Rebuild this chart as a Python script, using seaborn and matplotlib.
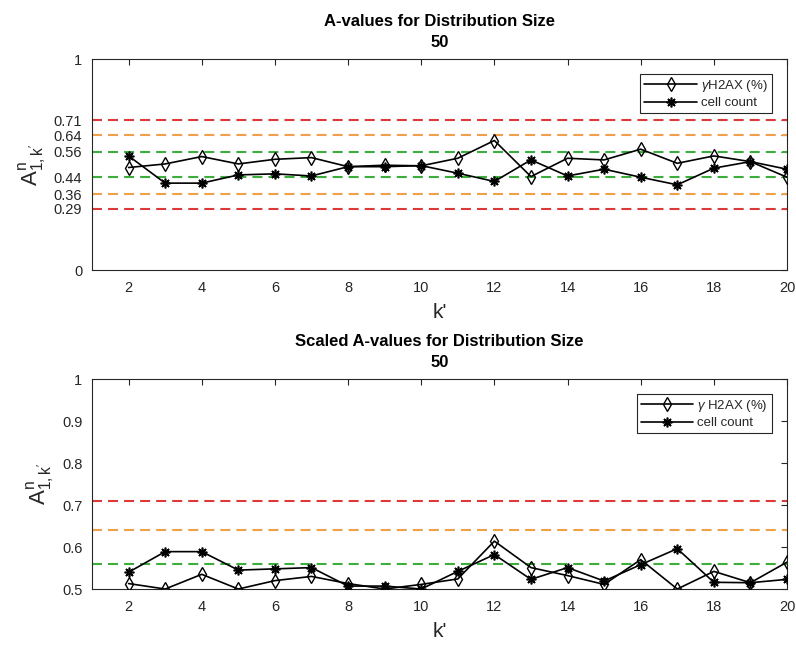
import numpy as np
import pandas as pd
import matplotlib
matplotlib.use("Agg")
import matplotlib.pyplot as plt
import seaborn as sns
from matplotlib.lines import Line2D

# k' positions
k_prime = [2, 3, 4, 5, 6, 7, 8, 9, 10, 11, 12, 13, 14, 15, 16, 17, 18, 19, 20]

# A-values
a_h2ax = [0.486, 0.503, 0.538, 0.503, 0.525, 0.533, 0.490, 0.497, 0.494, 0.530,
          0.614, 0.443, 0.530, 0.522, 0.573, 0.506, 0.541, 0.514, 0.440]
a_cells = [0.541, 0.412, 0.412, 0.451, 0.456, 0.446, 0.490, 0.490, 0.495, 0.459,
           0.420, 0.522, 0.446, 0.478, 0.440, 0.404, 0.483, 0.514, 0.478]

# Scaled A-values
s_h2ax = [0.513, 0.500, 0.535, 0.500, 0.520, 0.530, 0.513, 0.500, 0.511, 0.524,
          0.614, 0.551, 0.532, 0.511, 0.570, 0.500, 0.542, 0.515, 0.564]
s_cells = [0.540, 0.589, 0.589, 0.545, 0.548, 0.551, 0.507, 0.507, 0.500, 0.542,
           0.582, 0.523, 0.551, 0.519, 0.558, 0.596, 0.516, 0.515, 0.523]

# Effect-size thresholds (small / medium / large)
thr_levels = [0.56, 0.64, 0.71]
thr_colors = ["#3dae3d", "#f0a04b", "#dc3a3a"]

top_yticks = [0, 0.29, 0.36, 0.44, 0.56, 0.64, 0.71, 1]
top_yticklabels = ["0", "0.29", "0.36", "0.44", "0.56", "0.64", "0.71", "1"]
bot_yticks = [0.5, 0.6, 0.7, 0.8, 0.9, 1]
bot_yticklabels = ["0.5", "0.6", "0.7", "0.8", "0.9", "1"]
xticks = [2, 4, 6, 8, 10, 12, 14, 16, 18, 20]

sns.set_style("white")
plt.rcParams["font.family"] = ["Liberation Sans", "DejaVu Sans"]
plt.rcParams["mathtext.fontset"] = "custom"
plt.rcParams["mathtext.rm"] = "Liberation Sans"
plt.rcParams["mathtext.it"] = "Liberation Sans:italic"
plt.rcParams["mathtext.bf"] = "Liberation Sans:bold"

TXT = "#262626"

fig = plt.figure(figsize=(7.96, 6.46), dpi=100)
ax1 = fig.add_axes([0.1156, 0.582, 0.8731, 0.3265])
ax2 = fig.add_axes([0.1156, 0.0882, 0.8731, 0.3251])

star = (8, 2, 0)
DASH = (0, (4.8, 2.9))


def draw(ax, y1, y2, lower, label1):
    df = pd.DataFrame({"k": k_prime * 2,
                       "A": list(y1) + list(y2),
                       "series": ["h2ax"] * len(k_prime) + ["cells"] * len(k_prime)})
    # threshold lines
    for lvl, col in zip(thr_levels, thr_colors):
        ax.axhline(lvl, color=col, lw=1.5, ls=DASH, zorder=1)
        if lower:
            ax.axhline(1 - lvl, color=col, lw=1.5, ls=DASH, zorder=1)
    sns.lineplot(data=df[df.series == "h2ax"], x="k", y="A", ax=ax, color="black",
                 lw=1.2, marker="d", markersize=7.5, markerfacecolor="none",
                 markeredgecolor="black", markeredgewidth=1.0, zorder=3)
    sns.lineplot(data=df[df.series == "cells"], x="k", y="A", ax=ax, color="black",
                 lw=1.2, marker=star, markersize=7, markeredgecolor="black",
                 markeredgewidth=1.2, zorder=3)
    handles = [Line2D([], [], color="black", lw=1.2, marker="d", markersize=7,
                      markerfacecolor="none", markeredgecolor="black"),
               Line2D([], [], color="black", lw=1.2, marker=star, markersize=7,
                      markeredgewidth=1.2)]
    leg = ax.legend(handles, [label1, "cell count"], loc="upper right",
                    bbox_to_anchor=(0.978, 0.93), borderaxespad=0,
                    fontsize=9.5, frameon=True,
                    fancybox=False, edgecolor=TXT, framealpha=1,
                    handlelength=4.0, borderpad=0.3, labelspacing=0.25,
                    handletextpad=0.3)
    leg.get_frame().set_linewidth(0.8)
    ax.set_xlim(1, 20)
    ax.set_xticks(xticks)
    ax.set_xticklabels([str(t) for t in xticks])
    ax.set_xlabel("k'", fontsize=15, color=TXT, labelpad=6)
    ax.set_ylabel(r"$\mathrm{A}^{\mathrm{n}}_{\mathrm{1,k'}}$", fontsize=16, color=TXT, labelpad=4)
    ax.tick_params(direction="in", top=True, right=True, length=4, width=0.8,
                   labelsize=10.5, colors=TXT, pad=8)
    ax.tick_params(axis="y", pad=7)
    for s in ax.spines.values():
        s.set_color(TXT)
        s.set_linewidth(0.8)


draw(ax1, a_h2ax, a_cells, True, r"$\gamma$H2AX (%)")
ax1.set_ylim(0, 1)
ax1.set_yticks(top_yticks)
ax1.set_yticklabels(top_yticklabels)
ax1.set_title("A-values for Distribution Size\n50", fontsize=12, fontweight="bold",
              color="black", pad=9, linespacing=1.5)

draw(ax2, s_h2ax, s_cells, False, r"$\gamma$ H2AX (%)")
ax2.set_ylim(0.5, 1)
ax2.set_yticks(bot_yticks)
ax2.set_yticklabels(bot_yticklabels)
ax2.set_title("Scaled A-values for Distribution Size\n50", fontsize=12, fontweight="bold",
              color="black", pad=9, linespacing=1.5)

fig.savefig("out.png", dpi=100, facecolor="white")
